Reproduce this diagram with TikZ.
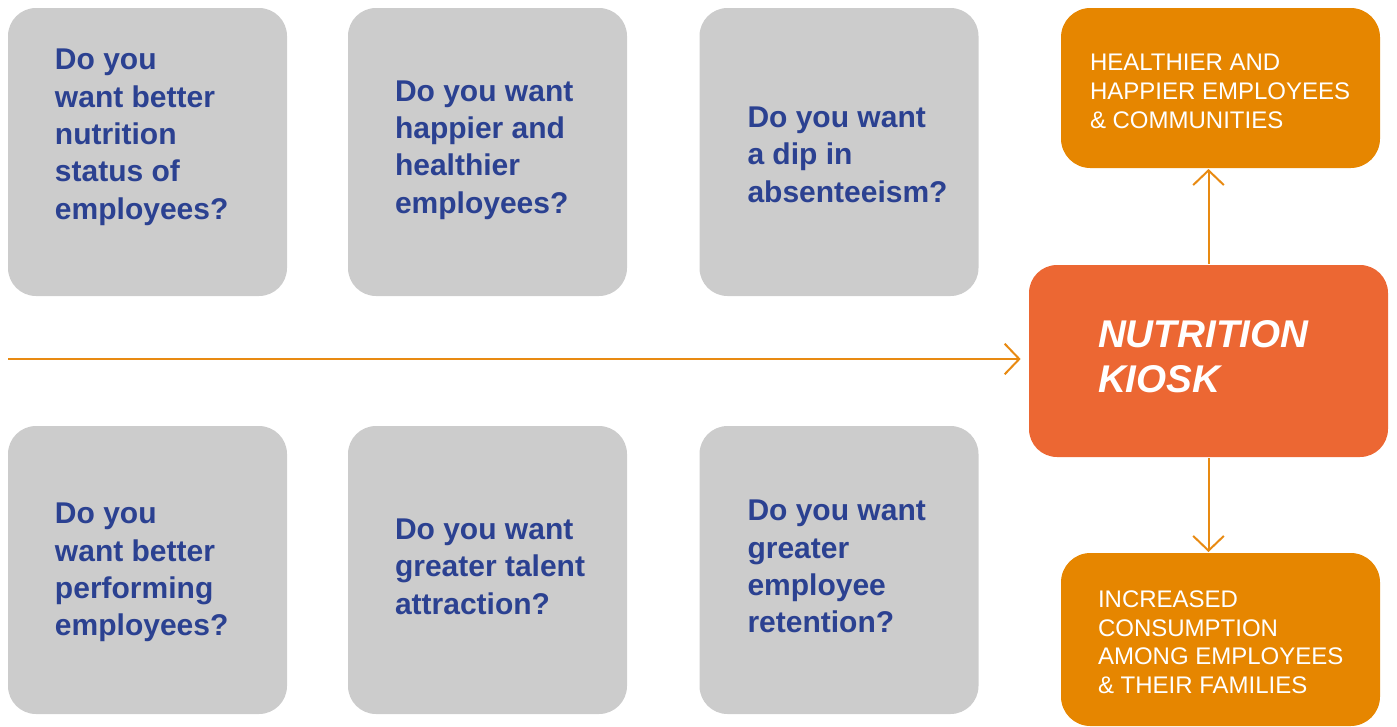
\documentclass[tikz,border=0pt]{standalone}
\usepackage{fontspec}
\setmainfont{Liberation Sans}
\usetikzlibrary{arrows.meta,positioning}
\definecolor{qgray}{HTML}{CCCCCC}
\definecolor{qblue}{HTML}{2B4191}
\definecolor{outorange}{HTML}{E68600}
\definecolor{kioskred}{HTML}{EC6733}
\definecolor{linkorange}{HTML}{E88A12}

\begin{document}
\begin{tikzpicture}[x=0.75pt,y=-0.75pt,>={Straight Barb[length=11pt,width=23pt]},
                    line width=1.5pt]
  \tikzstyle{question}=[fill=qgray,rounded corners=21pt,minimum width=209.25pt,
                        minimum height=216pt,inner sep=0pt]
  \tikzstyle{qtext}=[text=qblue,font=\fontsize{22.5}{28}\selectfont\bfseries,
                     align=left,anchor=west,inner sep=0pt]
  \tikzstyle{outcome}=[fill=outorange,rounded corners=22pt,minimum width=239.25pt,
                       inner sep=0pt]
  \tikzstyle{otext}=[text=white,font=\fontsize{18}{21.4}\selectfont,
                     align=left,anchor=west,inner sep=0pt]
  \tikzstyle{link}=[draw=linkorange,->]

  \useasboundingbox (0,0) rectangle (1397,726);

  % question boxes
  \node[question] (q1) at (147.5,152) {};
  \node[question] (q2) at (487.5,152) {};
  \node[question] (q3) at (839,152)   {};
  \node[question] (q4) at (147.5,570) {};
  \node[question] (q5) at (487.5,570) {};
  \node[question] (q6) at (839,570)   {};

  \node[qtext] (t1) at ([xshift=35.25pt,yshift=11pt]q1.west)
    {Do you\\want better\\nutrition\\status of\\employees?};
  \node[qtext] (t2) at ([xshift=35.25pt,yshift=1.5pt]q2.west)
    {Do you want\\happier and\\healthier\\employees?};
  \node[qtext] (t3) at ([xshift=36pt,yshift=-2pt]q3.west)
    {Do you want\\a dip in\\absenteeism?};
  \node[qtext] (t4) at ([xshift=35.25pt,yshift=-2pt]q4.west)
    {Do you\\want better\\performing\\employees?};
  \node[qtext] (t5) at ([xshift=35.25pt,yshift=2.5pt]q5.west)
    {Do you want\\greater talent\\attraction?};
  \node[qtext] (t6) at ([xshift=36pt,yshift=2.5pt]q6.west)
    {Do you want\\greater\\employee\\retention?};

  % kiosk and outcomes
  \node[fill=kioskred,rounded corners=21pt,minimum width=269.25pt,
        minimum height=144pt] (kiosk) at (1208.5,361) {};
  \node[text=white,font=\fontsize{29}{34}\selectfont\bfseries\itshape,
        align=left,anchor=west,inner sep=0pt] (k)
        at ([xshift=51.75pt,yshift=3pt]kiosk.west) {NUTRITION\\KIOSK};

  \node[outcome,minimum height=120pt] (up) at (1220.5,88) {};
  \node[outcome,minimum height=129.75pt] (down) at (1220.5,639.5) {};
  \node[otext] (u) at ([xshift=21.75pt,yshift=-2.5pt]up.west)
    {HEALTHIER AND\\HAPPIER EMPLOYEES\\\& COMMUNITIES};
  \node[otext] (d) at ([xshift=27.75pt,yshift=-2pt]down.west)
    {INCREASED\\CONSUMPTION\\AMONG EMPLOYEES\\\& THEIR FAMILIES};

  % connectors
  \coordinate (start) at (8,359);
  \draw[link,shorten >=5.5pt] (start) -- (start -| kiosk.west);
  \draw[link] (kiosk.north) -- (kiosk.north |- up.south);
  \draw[link] (kiosk.south) -- (kiosk.south |- down.north);
\end{tikzpicture}
\end{document}
